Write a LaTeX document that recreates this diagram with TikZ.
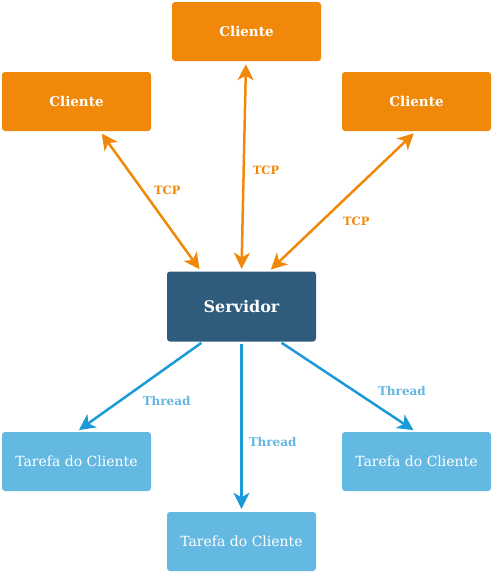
\documentclass[tikz,border=0pt]{standalone}
\usepackage{fontspec}
\setmainfont{DejaVu Serif}
\usetikzlibrary{arrows.meta,positioning}
\definecolor{clientorange}{HTML}{F0890A}
\definecolor{serverblue}{HTML}{2F5C7D}
\definecolor{taskblue}{HTML}{64B9E2}
\definecolor{threadblue}{HTML}{1A9AD6}
\definecolor{threadlabel}{HTML}{65B5E0}

\tikzset{
    box/.style={rounded corners=3pt, minimum width=149pt, minimum height=59pt,
        inner sep=0pt, text=white},
    cliente/.style={box, fill=clientorange, font=\fontsize{13.5}{15}\selectfont\bfseries},
    servidor/.style={box, fill=serverblue, minimum height=70pt,
        font=\fontsize{16}{18}\selectfont\bfseries},
    tarefa/.style={box, fill=taskblue, font=\fontsize{14}{16}\selectfont},
    tcp/.style={draw=clientorange, line width=2.5pt, shorten <=3pt, shorten >=2.5pt,
        {Stealth[length=16pt,width=16pt,inset=4.5pt]}-{Stealth[length=16pt,width=16pt,inset=4.5pt]}},
    thread/.style={draw=threadblue, line width=2.5pt, shorten <=2pt, shorten >=3pt,
        -{Stealth[length=16pt,width=16pt,inset=4.5pt]}},
    tcplabel/.style={text=clientorange, font=\fontsize{11.5}{13}\selectfont\bfseries, inner sep=0pt},
    threadlabel/.style={text=threadlabel, font=\fontsize{12}{14}\selectfont\bfseries, inner sep=0pt}
}

\begin{document}
\begin{tikzpicture}[x=1pt,y=-1pt]
\useasboundingbox (0,0) rectangle (493,573);

\node[servidor] (srv) at (241.5,306.5) {Servidor};

\node[cliente] (top) at (246.5,31.5) {Cliente};
\node[cliente] (left) at (76.5,101.5) {Cliente};
\node[cliente] (right) at (416.5,101.5) {Cliente};

\node[tarefa] (taskleft) at (76.5,461.5) {Tarefa do Cliente};
\node[tarefa] (taskright) at (416.5,461.5) {Tarefa do Cliente};
\node[tarefa] (taskmid) at (241.5,541.5) {Tarefa do Cliente};

% ligacoes TCP
\draw[tcp] ([xshift=23.5pt]left.south) -- ([xshift=-40.5pt]srv.north)
    node[tcplabel, pos=.42, anchor=west, xshift=10.5pt] {TCP};
\draw[tcp] ([xshift=-0.5pt]top.south) -- (srv.north)
    node[tcplabel, pos=.52, anchor=west, xshift=8pt] {TCP};
\draw[tcp] ([xshift=-0.5pt]right.south) -- ([xshift=27.5pt]srv.north)
    node[tcplabel, pos=.64, anchor=west, xshift=20pt] {TCP};

% threads
\draw[thread] ([xshift=-38.5pt]srv.south) -- (taskleft.north)
    node[threadlabel, pos=.66, anchor=west, xshift=22pt] {Thread};
\draw[thread] (srv.south) -- (taskmid.north)
    node[threadlabel, pos=.59, anchor=west, xshift=6pt] {Thread};
\draw[thread] ([xshift=38.5pt]srv.south) -- ([xshift=-0.5pt]taskright.north)
    node[threadlabel, pos=.55, anchor=west, xshift=22pt] {Thread};
\end{tikzpicture}
\end{document}
